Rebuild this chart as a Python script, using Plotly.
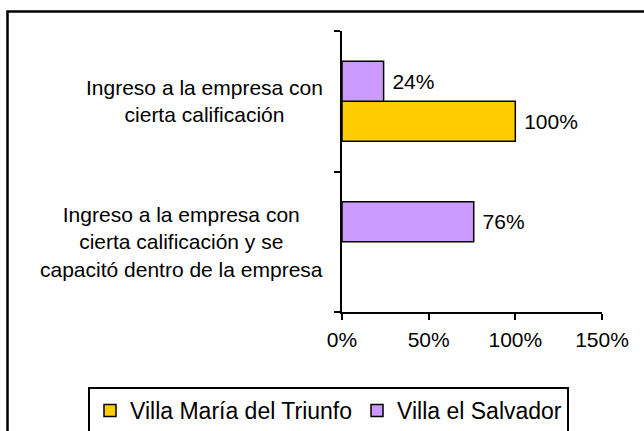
import plotly.graph_objects as go

categories = [
    "Ingreso a la empresa con cierta calificación",
    "Ingreso a la empresa con cierta calificación y se capacitó dentro de la empresa",
]
category_labels = [
    "Ingreso a la empresa con<br>cierta calificación",
    "Ingreso a la empresa con<br>cierta calificación y se<br>capacitó dentro de la empresa",
]
series_names = ["Villa María del Triunfo", "Villa el Salvador"]
villa_maria = [1.00, None]
villa_salvador = [0.24, 0.76]
x_ticks = [0, 0.5, 1.0, 1.5]
x_tick_labels = ["0%", "50%", "100%", "150%"]

FONT = "Liberation Sans, Arial, sans-serif"
colors = ["#FFCC00", "#CC99FF"]

fig = go.Figure()
for name, vals, col in zip(series_names, [villa_maria, villa_salvador], colors):
    fig.add_trace(go.Bar(
        y=categories, x=vals, name=name, orientation="h",
        marker=dict(color=col, line=dict(color="black", width=1.5)),
        texttemplate="\u00a0%{x:.0%}", textposition="outside",
        textfont=dict(family=FONT, size=21, color="black"),
        cliponaxis=False,
    ))

# category labels (right-aligned block, centered lines)
for cat, lab in zip(categories, category_labels):
    fig.add_annotation(
        x=(325 - 342) / 260, xref="paper", y=cat, yref="y",
        text=lab, showarrow=False, xanchor="right", align="center",
        font=dict(family=FONT, size=21, color="black"),
    )

# outer chart frame
fig.add_shape(type="rect", xref="paper", yref="paper",
              x0=(7.5 - 342) / 260, x1=(660 - 342) / 260,
              y0=(312 - 450) / 281, y1=(312 - 11.5) / 281,
              line=dict(color="black", width=2.5), fillcolor="rgba(0,0,0,0)",
              layer="below")

fig.update_layout(
    width=644, height=431,
    margin=dict(l=342, r=42, t=31, b=119, autoexpand=False),
    paper_bgcolor="white", plot_bgcolor="white",
    barmode="group", bargap=0.43, bargroupgap=0,
    font=dict(family=FONT, size=21, color="black"),
    showlegend=True,
    legend=dict(
        orientation="h", x=(88 - 342) / 260, xanchor="left",
        y=(312 - 387) / 281, yanchor="top",
        bordercolor="black", borderwidth=2,
        font=dict(family=FONT, size=23, color="black"),
        itemclick=False,
    ),
    xaxis=dict(
        range=[0, 1.5], tickvals=x_ticks, ticktext=x_tick_labels,
        showgrid=False, zeroline=False, showline=True, linecolor="black",
        linewidth=2, ticks="outside", ticklen=6, tickwidth=2, tickcolor="black",
        ticklabelstandoff=2,
        tickfont=dict(family=FONT, size=21, color="black"),
    ),
    yaxis=dict(
        type="category", categoryorder="array", categoryarray=categories[::-1],
        showticklabels=False, showgrid=False, zeroline=False,
        showline=True, linecolor="black", linewidth=2,
        ticks="outside", tickson="boundaries", ticklen=6, tickwidth=2,
        tickcolor="black",
    ),
)

fig.write_html("out.html", config={"displayModeBar": False},
               post_script="document.body.style.margin='0px';")
